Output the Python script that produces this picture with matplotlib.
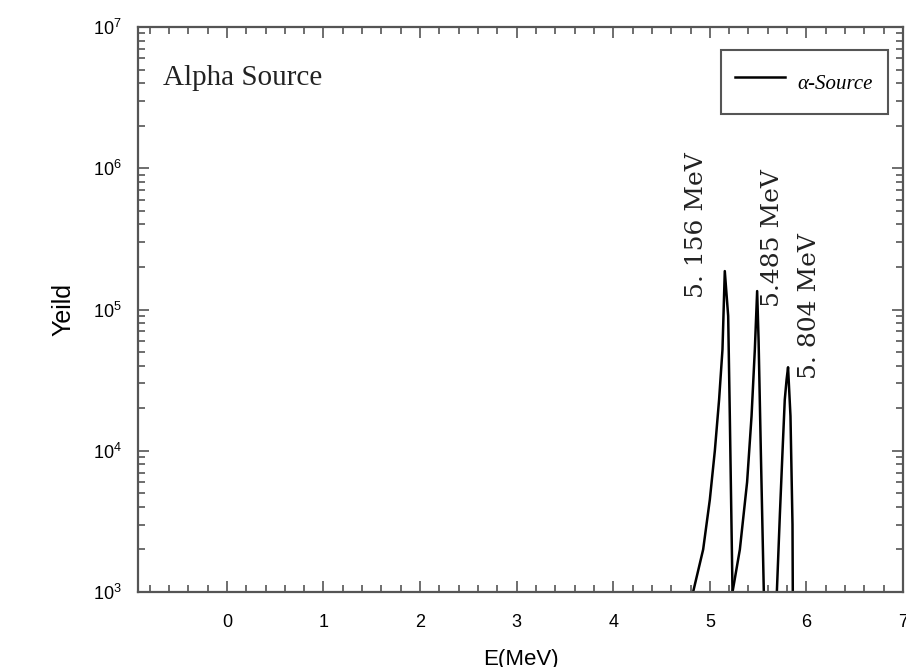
#!/usr/bin/env python3
"""
Alpha source energy spectrum (log yield vs. energy) with three labelled peaks.
"""

import matplotlib

matplotlib.use("Agg")
import matplotlib.pyplot as plt
from matplotlib.ticker import MultipleLocator, LogLocator

# Peak traces: energy [MeV] and yield
peak1_energy = [4.827, 4.931, 5.000, 5.052, 5.096, 5.131, 5.155, 5.190, 5.207, 5.235]
peak1_yield = [1.0e3, 2.0e3, 4.5e3, 1.0e4, 2.3e4, 5.2e4, 1.87e5, 9.0e4, 1.76e4, 1.0e3]

peak2_energy = [5.235, 5.311, 5.386, 5.432, 5.466, 5.490, 5.505, 5.528, 5.559]
peak2_yield = [1.0e3, 2.0e3, 6.0e3, 1.76e4, 5.2e4, 1.35e5, 6.0e4, 1.0e4, 1.0e3]

peak3_energy = [5.694, 5.725, 5.753, 5.776, 5.795, 5.810, 5.835, 5.856, 5.859]
peak3_yield = [1.0e3, 3.5e3, 1.0e4, 2.3e4, 3.2e4, 3.9e4, 1.76e4, 3.0e3, 1.0e3]

# Peak annotations: text, energy position and yield at the text's bottom end
peak_labels = ["5. 156 MeV", "5.485 MeV", "5. 804 MeV"]
peak_label_energy = [4.865, 5.65, 6.035]
peak_label_yield = [1.2e5, 1.05e5, 3.2e4]

X_LIMITS = (-0.92, 7.0)
Y_LIMITS = (1e3, 1e7)


def main():
    plt.rcParams["font.family"] = ["Liberation Sans", "DejaVu Sans"]
    plt.rcParams["mathtext.default"] = "regular"

    fig = plt.figure(figsize=(9.06, 6.67), dpi=100)
    ax = fig.add_axes([138 / 906, 1 - 592 / 667, 765 / 906, 565 / 667])

    ####################################
    # Spectrum
    ####################################
    ax.plot(peak1_energy, peak1_yield, color="black", lw=1.8, label="α-Source")
    ax.plot(peak2_energy, peak2_yield, color="black", lw=1.8)
    ax.plot(peak3_energy, peak3_yield, color="black", lw=1.8)

    for text, x, y in zip(peak_labels, peak_label_energy, peak_label_yield):
        ax.text(
            x,
            y,
            text,
            rotation=90,
            ha="center",
            va="bottom",
            fontsize=18,
            family="DejaVu Serif",
            color="#222222",
        )

    ax.text(
        0.033,
        0.91,
        "Alpha Source",
        transform=ax.transAxes,
        ha="left",
        va="center",
        fontsize=21,
        family="Liberation Serif",
        color="#222222",
    )

    ####################################
    # Axes and ticks
    ####################################
    ax.set_yscale("log")
    ax.set_xlim(*X_LIMITS)
    ax.set_ylim(*Y_LIMITS)

    ax.xaxis.set_major_locator(MultipleLocator(1))
    ax.xaxis.set_minor_locator(MultipleLocator(0.2))
    ax.yaxis.set_major_locator(LogLocator(base=10, numticks=10))
    ax.yaxis.set_minor_locator(LogLocator(base=10, subs=range(2, 10), numticks=20))

    for spine in ax.spines.values():
        spine.set_color("#555555")
        spine.set_linewidth(1.6)

    ax.tick_params(
        which="both", direction="in", top=True, right=True, color="#555555", width=1.2
    )
    ax.tick_params(which="major", length=8, labelsize=13)
    ax.tick_params(which="minor", length=5)
    ax.tick_params(axis="x", which="major", pad=16)
    ax.tick_params(axis="y", which="major", pad=12)

    ax.set_xlabel("E(MeV)", fontsize=16, labelpad=13)
    ax.set_ylabel("Yeild", fontsize=18, labelpad=12)

    leg = ax.legend(
        loc="upper right",
        bbox_to_anchor=(0.980, 0.959),
        prop={"family": "Liberation Serif", "style": "italic", "size": 15},
        fancybox=False,
        framealpha=1,
        edgecolor="#555555",
        borderpad=0.7,
        handleheight=2.2,
        handlelength=2.4,
        handletextpad=0.6,
        borderaxespad=0,
    )
    leg.get_frame().set_linewidth(1.5)

    fig.savefig("out.png", dpi=100)


if __name__ == "__main__":
    main()
